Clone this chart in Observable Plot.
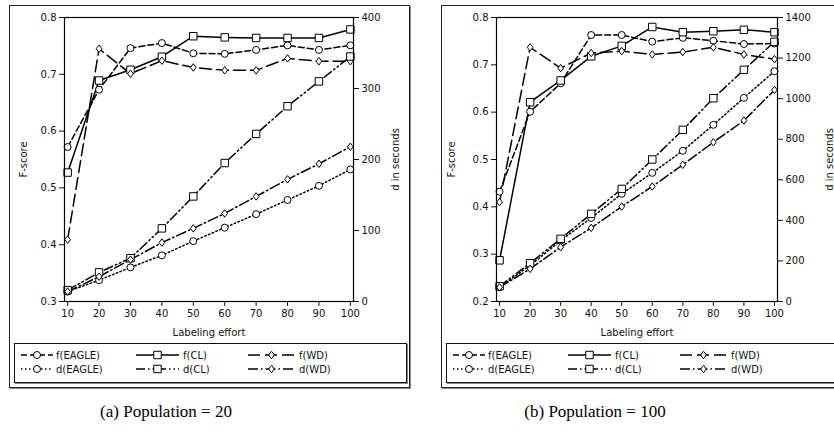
<!DOCTYPE html>
<html><head><meta charset="utf-8">
<script src="https://cdn.jsdelivr.net/npm/d3@7"></script>
<script src="https://cdn.jsdelivr.net/npm/@observablehq/plot@0.6"></script>
<style>
html,body{margin:0;padding:0;background:#fff}
body{width:834px;height:439px;overflow:hidden;position:relative;font-family:"DejaVu Sans",sans-serif;color:#111}
.frame{position:absolute;border:1px solid #222;box-shadow:1px 1px 0 #888;box-sizing:border-box}
.legend{position:absolute;border:1px solid #111;box-shadow:1px 1px 0 #888;box-sizing:border-box;background:#fff}
.panel{position:absolute;top:0}
.caption{position:absolute;top:402px;font-family:"Liberation Serif",serif;font-size:17px;transform:translateX(-50%);white-space:nowrap;color:#000}
</style></head><body>
<script>
// ---- data ----
const effort = [10,20,30,40,50,60,70,80,90,100];
const seriesNames = ["f(EAGLE)","f(CL)","f(WD)","d(EAGLE)","d(CL)","d(WD)"];
// Panel (a) Population = 20
const fEagleA = [0.572,0.673,0.746,0.755,0.737,0.736,0.743,0.751,0.743,0.751];
const fClA    = [0.527,0.689,0.708,0.731,0.767,0.765,0.764,0.764,0.764,0.779];
const fWdA    = [0.409,0.745,0.701,0.724,0.712,0.707,0.707,0.728,0.723,0.723];
const dEagleA = [14,30,48,65,85,104,123,143,163,186];
const dClA    = [16,41,61,103,148,195,236,275,310,345];
const dWdA    = [14,35,59,83,103,124,148,172,194,218];
const fTicksA = [0.3,0.4,0.5,0.6,0.7,0.8];
const dTicksA = [0,100,200,300,400];
// Panel (b) Population = 100
const fEagleB = [0.432,0.601,0.661,0.763,0.763,0.749,0.757,0.751,0.744,0.745];
const fClB    = [0.287,0.621,0.667,0.718,0.740,0.780,0.769,0.771,0.774,0.769];
const fWdB    = [0.410,0.737,0.693,0.725,0.729,0.722,0.727,0.737,0.722,0.712];
const dEagleB = [70,178,300,412,531,634,743,871,1004,1135];
const dClB    = [75,189,309,432,555,700,846,1002,1142,1280];
const dWdB    = [70,161,268,363,468,567,674,785,892,1043];
const fTicksB = [0.2,0.3,0.4,0.5,0.6,0.7,0.8];
const dTicksB = [0,200,400,600,800,1000,1200,1400];
const captions = ["(a) Population = 20","(b) Population = 100"];

// ---- styles ----
const thinDiamond = {draw(ctx, size){const r=Math.sqrt(size/Math.PI);const h=r*1.25,w=r*0.95;ctx.moveTo(0,-h);ctx.lineTo(w,0);ctx.lineTo(0,h);ctx.lineTo(-w,0);ctx.closePath();}};
const styles = {
  "f(EAGLE)": {dash:"6,3", symbol:"circle", r:3.5},
  "f(CL)":    {dash:null, symbol:"square", r:4.2},
  "f(WD)":    {dash:"12,5", symbol:thinDiamond, r:3},
  "d(EAGLE)": {dash:"1.5,2.5", symbol:"circle", r:3.5},
  "d(CL)":    {dash:"9,3,1.5,3,1.5,3", symbol:"square", r:4.2},
  "d(WD)":    {dash:"10,3,1.5,3", symbol:thinDiamond, r:3}
};

function panel(cfg){
  const [f0,f1] = cfg.fDomain, [d0,d1] = cfg.dDomain;
  const m = v => f0 + (v-d0)/(d1-d0)*(f1-f0);
  const inv = t => d0 + (t-f0)/(f1-f0)*(d1-d0);
  const values = {"f(EAGLE)":cfg.fE,"f(CL)":cfg.fC,"f(WD)":cfg.fW,"d(EAGLE)":cfg.dE.map(m),"d(CL)":cfg.dC.map(m),"d(WD)":cfg.dW.map(m)};
  const marks = [];
  for (const s of seriesNames){
    const data = effort.map((x,i)=>({x, y: values[s][i]}));
    const st = styles[s];
    marks.push(Plot.line(data,{x:"x",y:"y",stroke:"#000",strokeWidth:1.5,strokeDasharray:st.dash||undefined}));
  }
  for (const s of seriesNames){
    const data = effort.map((x,i)=>({x, y: values[s][i]}));
    const st = styles[s];
    marks.push(Plot.dot(data,{x:"x",y:"y",symbol:()=>st.symbol,r:st.r,fill:"#fff",stroke:"#000",strokeWidth:1}));
  }
  const plot = Plot.plot({
    width: cfg.width, height: 340,
    marginLeft: cfg.ml, marginRight: cfg.mr, marginTop: 17, marginBottom: 39,
    style: {fontFamily:"DejaVu Sans", fontSize:"10px", color:"#111", background:"transparent", overflow:"visible"},
    symbol: {type:"identity"},
    x: {domain:[9,101]},
    y: {domain: cfg.fDomain},
    marks: [
      Plot.axisX({ticks: effort, tickSize:5, tickPadding:3, fontSize:10, label:"Labeling effort", labelAnchor:"center", labelArrow:"none", labelOffset:34}),
      Plot.axisY({anchor:"left", ticks: cfg.fTicks, tickFormat: d=>d.toFixed(1), tickSize:5, tickPadding:3, fontSize:10, label:"F-score", labelAnchor:"center", labelArrow:"none", labelOffset:cfg.lo}),
      Plot.axisY({anchor:"right", ticks: cfg.dTicks.map(m), tickFormat: t=>String(Math.round(inv(t))), tickSize:5, tickPadding:3, fontSize:10, label:"d in seconds", labelAnchor:"center", labelArrow:"none", labelOffset:cfg.ro}),
      ...marks,
      Plot.frame({stroke:"#000", strokeWidth:1.2})
    ]
  });
  const div = document.createElement("div");
  div.className = "panel";
  div.style.left = cfg.left + "px";
  div.style.width = cfg.width + "px";
  div.style.overflow = "hidden";
  div.appendChild(plot);
  document.body.appendChild(div);
}

function frame(left, width){
  const f = document.createElement("div");
  f.className = "frame";
  Object.assign(f.style,{left:left+"px",top:"5px",width:width+"px",height:"383px"});
  document.body.appendChild(f);
}

function legend(left, width){
  const box = document.createElement("div");
  box.className = "legend";
  Object.assign(box.style,{left:left+"px",top:"343px",width:width+"px",height:"40px"});
  const svg = d3.create("svg").attr("width", width).attr("height", 40).style("display","block");
  const cols = [{x0:6,x1:38,tx:41},{x0:121,x1:164,tx:168},{x0:233,x1:280,tx:284}];
  const rows = [11,25];
  seriesNames.forEach((s,i)=>{
    const col = cols[i%3], y = rows[Math.floor(i/3)], st = styles[s];
    svg.append("line").attr("x1",col.x0).attr("x2",col.x1).attr("y1",y).attr("y2",y)
      .attr("stroke","#000").attr("stroke-width",1.5).attr("stroke-dasharray",st.dash);
    const sym = d3.symbol().type(typeof st.symbol==="string"?(st.symbol==="circle"?d3.symbolCircle:d3.symbolSquare):st.symbol).size(st.r*st.r*Math.PI);
    svg.append("path").attr("d",sym()).attr("transform",`translate(${(col.x0+col.x1)/2},${y})`).attr("fill","#fff").attr("stroke","#000");
    svg.append("text").attr("x",col.tx).attr("y",y).attr("dy","0.35em").attr("font-size",10).attr("font-family","DejaVu Sans").attr("fill","#111").text(s);
  });
  box.appendChild(svg.node());
  document.body.appendChild(box);
}

frame(9, 401);
frame(441, 410);
panel({left:0, width:420, ml:64, mr:67, lo:45, ro:45, fDomain:[0.3,0.8], dDomain:[0,400], fTicks:fTicksA, dTicks:dTicksA, fE:fEagleA, fC:fClA, fW:fWdA, dE:dEagleA, dC:dClA, dW:dWdA});
panel({left:430, width:404, ml:66, mr:57, lo:49, ro:55, fDomain:[0.2,0.8], dDomain:[0,1400], fTicks:fTicksB, dTicks:dTicksB, fE:fEagleB, fC:fClB, fW:fWdB, dE:dEagleB, dC:dClB, dW:dWdB});
legend(14, 393);
legend(446, 400);
captions.forEach((c,i)=>{
  const d = document.createElement("div");
  d.className = "caption";
  d.style.left = (i===0?166:595) + "px";
  d.textContent = c;
  document.body.appendChild(d);
});
</script>
</body></html>
